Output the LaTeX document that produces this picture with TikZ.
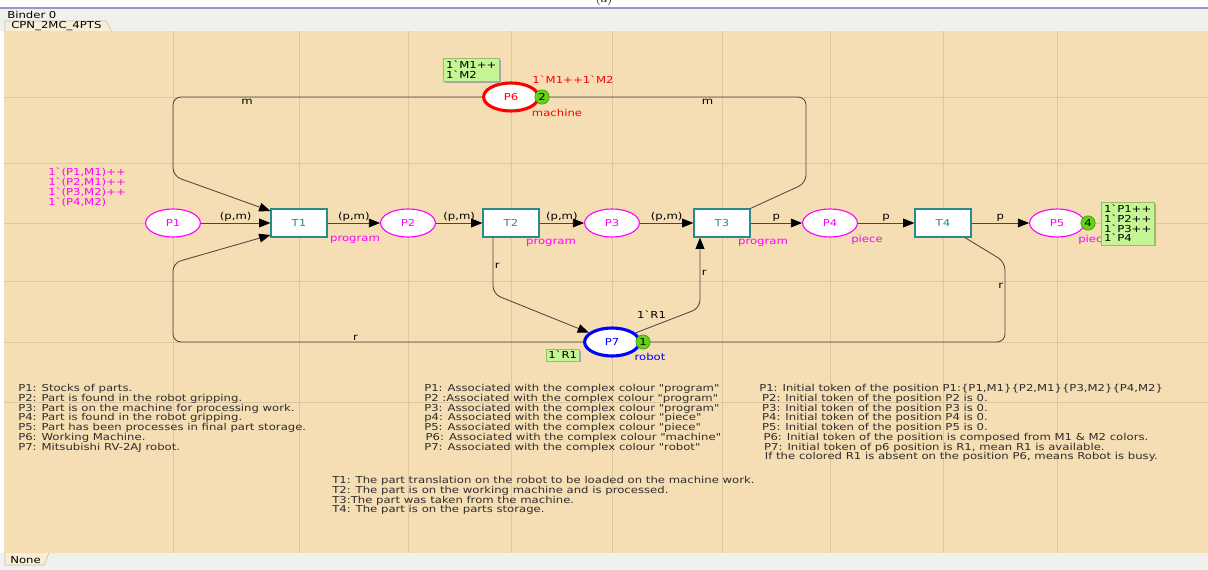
\documentclass[tikz,border=0pt]{standalone}
\usepackage{fontspec}
\usepackage{xcolor}
\usepackage{tikz}
\usetikzlibrary{shapes.geometric,arrows.meta,positioning,shadows}

\newfontfamily\cpnfont{DejaVu Sans}[FakeStretch=1.22]
\newcommand\cpnsize{\fontsize{6.8}{6.95}\selectfont}

\definecolor{canvasbg}{RGB}{245,222,179}
\definecolor{gridline}{RGB}{222,198,158}
\definecolor{headgray}{RGB}{240,240,236}
\definecolor{tabfill}{RGB}{250,238,214}
\definecolor{lavender}{RGB}{150,150,205}
\definecolor{placemag}{RGB}{255,0,255}
\definecolor{transteal}{RGB}{40,140,140}
\definecolor{arcgray}{RGB}{75,70,62}
\definecolor{tokengreen}{RGB}{102,210,20}
\definecolor{tokenedge}{RGB}{60,140,10}
\definecolor{markgreen}{RGB}{198,245,150}
\definecolor{markedge}{RGB}{150,190,110}
\definecolor{notegray}{RGB}{45,45,45}

\begin{document}
\begin{tikzpicture}[x=0.025cm,y=-0.025cm,font=\cpnfont\cpnsize,
    place/.style={ellipse,draw=placemag,line width=0.8pt,fill=white,text=placemag,
      minimum width=1.37cm,minimum height=0.7cm,inner sep=0pt},
    trans/.style={rectangle,draw=transteal,line width=0.9pt,fill=white,text=transteal,
      minimum width=1.4cm,minimum height=0.7cm,inner sep=0pt},
    arc/.style={draw=arcgray,line width=0.6pt,rounded corners=0.2cm,
      -{Triangle[length=0.28cm,width=0.22cm,color=black]}},
    arctok/.style={arc,-{Triangle[length=0.12cm,width=0.12cm,color=black]}},
    token/.style={circle,fill=tokengreen,draw=tokenedge,line width=0.4pt,
      inner sep=0pt,minimum size=0.36cm},
    marking/.style={fill=markgreen,draw=markedge,line width=0.3pt,align=left,
      inner sep=2pt,anchor=north west,
      drop shadow={shadow xshift=1pt,shadow yshift=-1pt,fill=black!35,opacity=1}},
    lab/.style={inner sep=1pt,text=black},
    note/.style={align=left,anchor=north west,inner sep=0pt,text=notegray}]
    \useasboundingbox (0,0) rectangle (1208,570);
    % window frame
    \fill[white] (0,0) rectangle (1208,570);
    \node (figtag) at (604,-1) {\normalfont\small (a)};
    \fill[headgray] (0,9) rectangle (1208,31);
    \draw[lavender,line width=1.2pt] (0,8) -- (1208,8);
    \node[anchor=west,inner sep=0pt] (binder) at (7,15) {Binder 0};
    \filldraw[fill=tabfill,draw=black!25] (5,32) -- (5,21) -- (106,21) -- (112,32);
    \node[anchor=west,inner sep=0pt] (pagetab) at (11,26) {CPN\_2MC\_4PTS};
    \fill[canvasbg] (4,31) rectangle (1208,553);
    \foreach \gx in {173,299,408,511,612,722,830,943,1057}
      \draw[gridline,line width=0.6pt] (\gx,31) -- (\gx,553);
    \foreach \gy in {97,163,223,281,342,402}
      \draw[gridline,line width=0.6pt] (4,\gy) -- (1208,\gy);
    \fill[headgray] (0,553) rectangle (1208,570);
    \filldraw[fill=tabfill,draw=black!25] (5,553) -- (5,565) -- (44,565) -- (49,553);
    \node[anchor=west,inner sep=0pt] (statustab) at (10,560) {None};

    % places and transitions
    \foreach \name/\x in {P1/173,P2/408,P3/612,P4/830,P5/1057}
      \node[place] (\name) at (\x,223) {\name};
    \foreach \name/\x in {T1/299,T2/511,T3/722,T4/943}
      \node[trans] (\name) at (\x,223) {\name};
    \node[place,draw=red,text=red,line width=2.2pt] (P6) at (511,97) {P6};
    \node[place,draw=blue,text=blue,line width=2.2pt] (P7) at (612,342) {P7};

    % arcs along the main row
    \foreach \a/\b/\t in {P1/T1/{(p,m)},T1/P2/{(p,m)},P2/T2/{(p,m)},T2/P3/{(p,m)},
        P3/T3/{(p,m)},T3/P4/p,P4/T4/p,T4/P5/p}
      \draw[arc] (\a) -- node[midway,above,lab] (l\a\b) {\t} (\b);

    % machine loop
    \draw[arc] (P6) -- node[pos=0.76,below,lab] (lP6T1) {m} (173,97) -- (173,176)
      -- ([yshift=0.3cm]T1.west);
    \draw[arctok] (T3.north east) -- (806,183) -- (806,97)
      -- node[pos=0.37,below,lab] (lT3P6) {m} (P6);
    % robot loop
    \draw[arc] (P7) -- node[pos=0.555,above,lab] (lP7T1) {r} (173,342) -- (173,263)
      -- ([yshift=-0.3cm]T1.west);
    \draw[arc] ([xshift=-0.45cm]T2.south) -- node[midway,right,lab] (lT2P7) {r} (493,294)
      -- (P7);
    \draw[arc] (P7) -- node[midway,above left,lab] (lP7T3) {1`R1} (700,308)
      -- node[midway,right,lab] (lP7T3b) {r} ([xshift=-0.55cm]T3.south);
    \draw[arctok] ([xshift=0.55cm]T4.south) -- (1005,262)
      -- node[pos=0.3,left,lab] (lT4P7) {r} (1005,342) -- (P7);

    % inscriptions
    \node[note,text=placemag] (initP1) at (48,168) {1`(P1,M1)++\\1`(P2,M1)++\\1`(P3,M2)++\\1`(P4,M2)};
    \node[text=red,inner sep=0pt] (initP6) at (573,80) {1`M1++1`M2};
    \node[text=red,inner sep=0pt] (colP6) at (557,113) {machine};
    \node[text=placemag,inner sep=0pt] (colT1) at (355,240) {program};
    \node[text=placemag,inner sep=0pt] (colT2) at (551,243) {program};
    \node[text=placemag,inner sep=0pt] (colT3) at (763,243) {program};
    \node[text=placemag,inner sep=0pt] (colP4) at (867,240) {piece};
    \node[text=placemag,inner sep=0pt] (colP5) at (1094,240) {piece};
    \node[text=blue,inner sep=0pt] (colP7) at (650,357) {robot};

    % tokens and markings
    \node[token] (tokP6) at (542,97) {2};
    \node[token] (tokP7) at (643,342) {1};
    \node[token] (tokP5) at (1088,223) {4};
    \node[marking] (mkP6) at (443,58) {1`M1++\\1`M2};
    \node[marking] (mkP5) at (1101,202) {1`P1++\\1`P2++\\1`P3++\\1`P4};
    \node[marking,inner sep=1.5pt] (mkP7) at (546,349) {1`R1};

    % notes
    \node[note] (notePlaces) at (18,384) {P1: Stocks of parts.\\
      P2: Part is found in the robot gripping.\\
      P3: Part is on the machine for processing work.\\
      P4: Part is found in the robot gripping.\\
      P5: Part has been processes in final part storage.\\
      P6: Working Machine.\\
      P7: Mitsubishi RV-2AJ robot.};
    \node[note] (noteColours) at (424,384) {P1: Associated with the complex colour "program"\\
      P2 :Associated with the complex colour "program"\\
      P3: Associated with the complex colour "program"\\
      p4: Associated with the complex colour "piece"\\
      P5: Associated with the complex colour "piece"\\
      \hspace*{1pt}P6: Associated with the complex colour "machine"\\
      P7: Associated with the complex colour "robot"};
    \node[note] (noteTokens) at (759,384) {P1: Initial token of the position P1:\{P1,M1\}\{P2,M1\}\{P3,M2\}\{P4,M2\}\\
      \hspace*{2pt}P2: Initial token of the position P2 is 0.\\
      \hspace*{2pt}P3: Initial token of the position P3 is 0.\\
      \hspace*{2pt}P4: Initial token of the position P4 is 0.\\
      \hspace*{2pt}P5: Initial token of the position P5 is 0.\\
      \hspace*{3pt}P6: Initial token of the position is composed from M1 \& M2 colors.\\
      \hspace*{3.5pt}P7: Initial token of p6 position is R1, mean R1 is available.\\
      \hspace*{4pt}If the colored R1 is absent on the position P6, means Robot is busy.};
    \node[note] (noteTrans) at (332,476) {T1: The part translation on the robot to be loaded on the machine work.\\
      T2: The part is on the working machine and is processed.\\
      T3:The part was taken from the machine.\\
      T4: The part is on the parts storage.};
\end{tikzpicture}
\end{document}
